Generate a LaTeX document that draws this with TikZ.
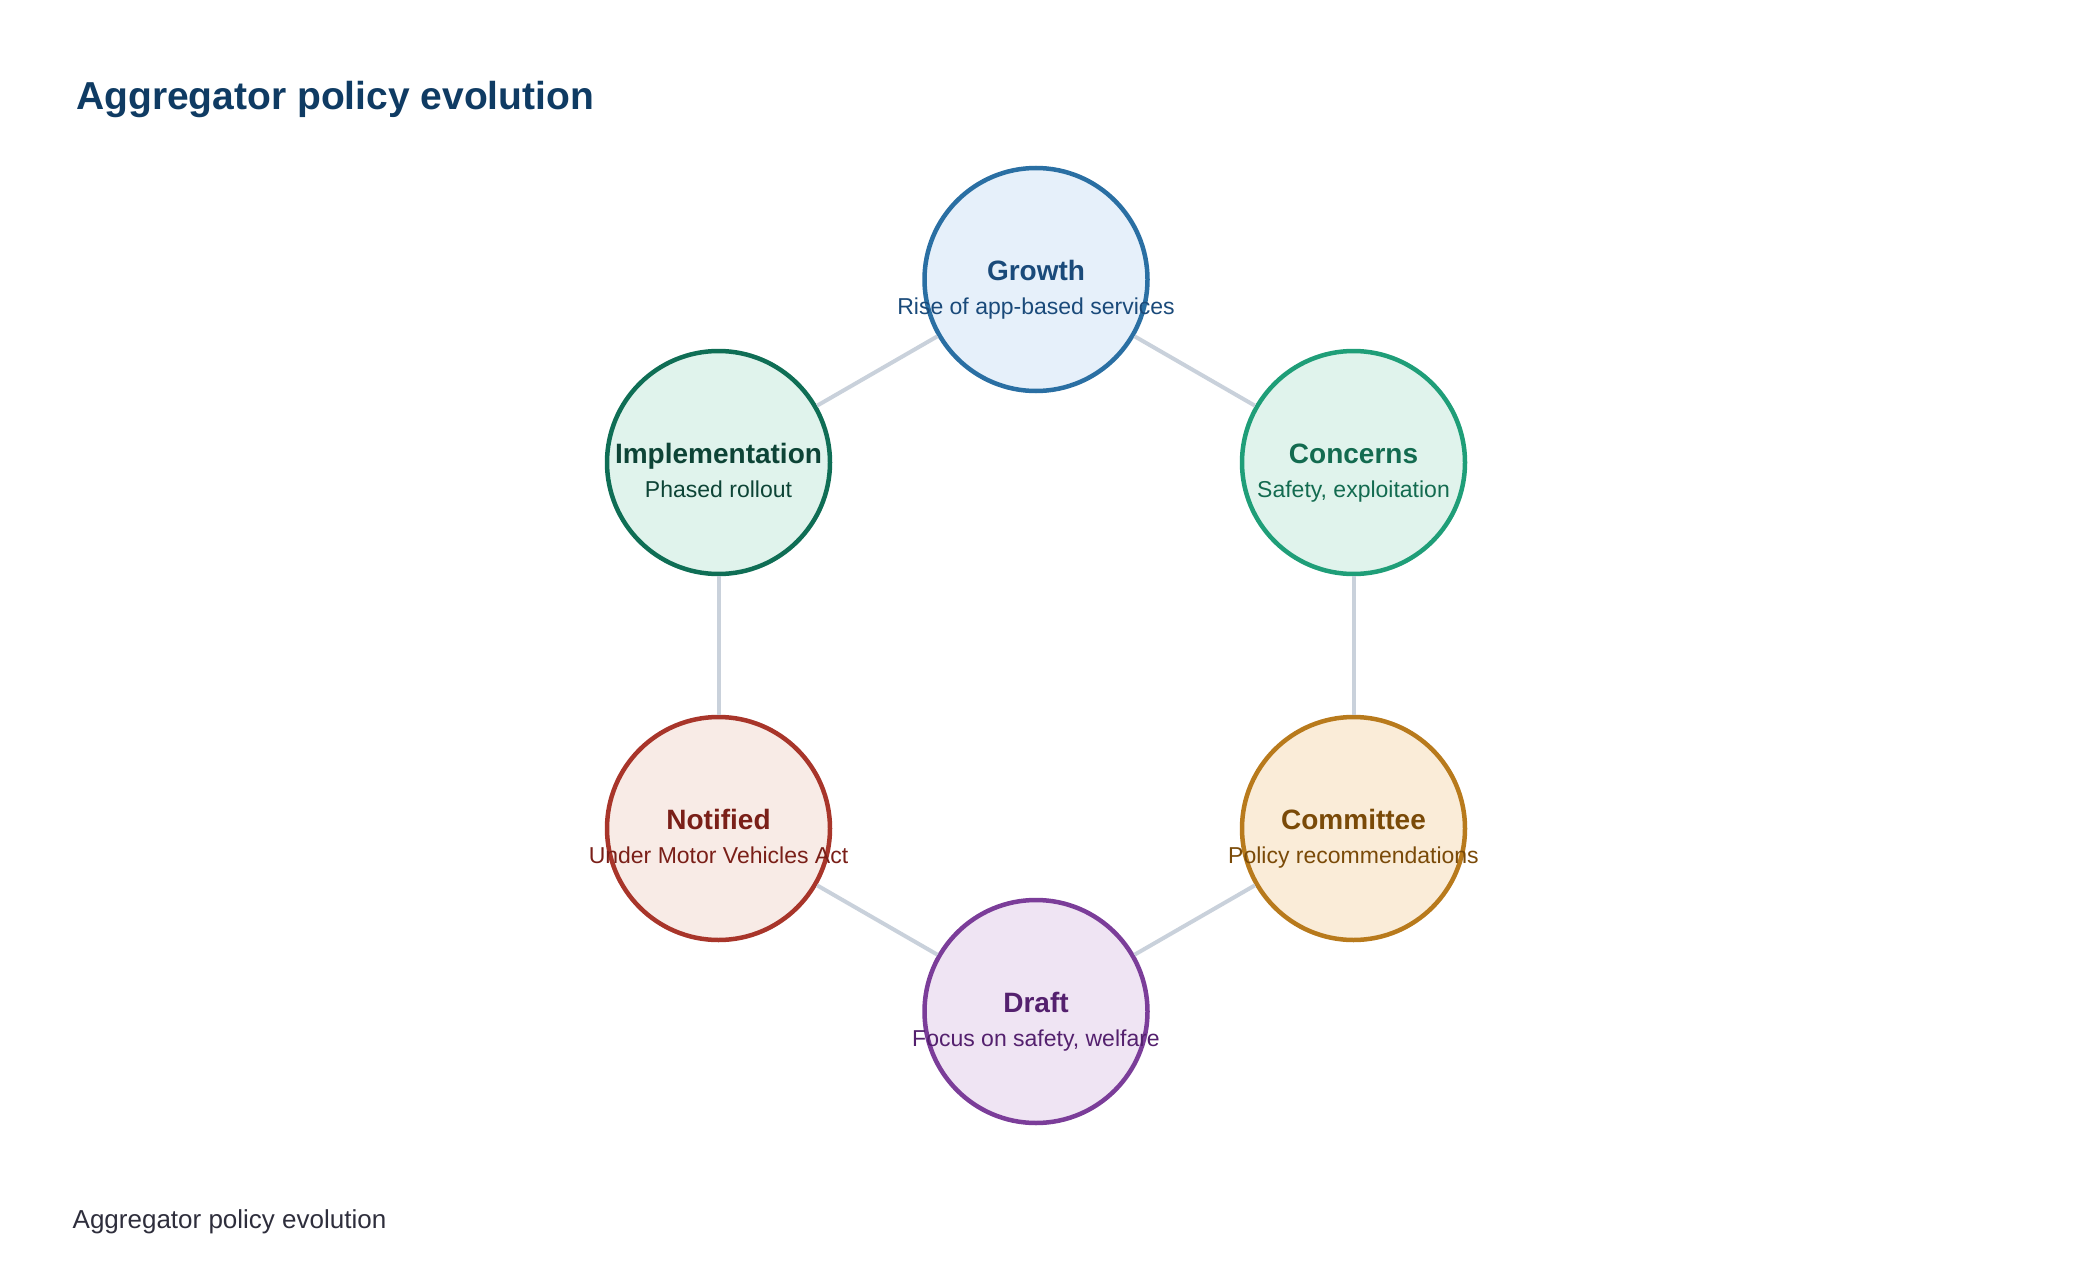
\documentclass[tikz,border=0pt]{standalone}
\usepackage{fontspec}
\setmainfont{Liberation Sans}
\definecolor{titlecol}{HTML}{0F3B63}
\definecolor{footcol}{HTML}{2E2E3C}
\definecolor{edgecol}{HTML}{C9D1DB}
\definecolor{gS}{HTML}{2A6FA3}\definecolor{gF}{HTML}{E6F0FA}\definecolor{gT}{HTML}{1A4A7A}
\definecolor{iS}{HTML}{0F6E55}\definecolor{iF}{HTML}{E0F3EC}\definecolor{iT}{HTML}{0D4436}
\definecolor{cS}{HTML}{1F9E78}\definecolor{cF}{HTML}{E0F3EC}\definecolor{cT}{HTML}{136B50}
\definecolor{nS}{HTML}{A8352A}\definecolor{nF}{HTML}{F8EBE6}\definecolor{nT}{HTML}{7A1F18}
\definecolor{mS}{HTML}{B87A1C}\definecolor{mF}{HTML}{FAECD8}\definecolor{mT}{HTML}{7A4A08}
\definecolor{dS}{HTML}{7B3D99}\definecolor{dF}{HTML}{EFE4F3}\definecolor{dT}{HTML}{54206E}
\tikzset{
  stage/.style={circle,draw=#1S,fill=#1F,line width=4.5pt,minimum size=223pt,inner sep=0pt},
  head/.style={anchor=base,inner sep=0pt,text=#1T,font=\fontsize{28}{32}\selectfont\bfseries},
  sub/.style={anchor=base,inner sep=0pt,text=#1T,font=\fontsize{23}{27}\selectfont},
  link/.style={draw=edgecol,line width=4pt}
}
\begin{document}
\begin{tikzpicture}[x=1pt,y=-1pt]
\useasboundingbox (0,0) rectangle (2080,1284);
\node[anchor=base west,inner sep=0pt,text=titlecol,font=\fontsize{39}{44}\selectfont\bfseries] (title) at (76,110) {Aggregator policy evolution};
\node[anchor=base west,inner sep=0pt,text=footcol,font=\fontsize{26}{30}\selectfont] (foot) at (72.5,1228) {Aggregator policy evolution};
\node[stage=g] (g) at (1036,279.5) {};
\node[stage=c] (c) at (1353.5,462.5) {};
\node[stage=m] (m) at (1353.5,828.5) {};
\node[stage=d] (d) at (1036,1011.5) {};
\node[stage=n] (n) at (718.5,828.5) {};
\node[stage=i] (i) at (718.5,462.5) {};
\draw[link] (g) -- (c);
\draw[link] (c) -- (m);
\draw[link] (m) -- (d);
\draw[link] (d) -- (n);
\draw[link] (n) -- (i);
\draw[link] (i) -- (g);
\node[head=g] (gh) at ([yshift=-1pt]g.center) {Growth};
\node[sub=g] (gs) at ([yshift=-35pt]g.center) {Rise of app-based services};
\node[head=c] (ch) at ([yshift=-1pt]c.center) {Concerns};
\node[sub=c] (cs) at ([yshift=-35pt]c.center) {Safety, exploitation};
\node[head=m] (mh) at ([yshift=-1pt]m.center) {Committee};
\node[sub=m] (ms) at ([yshift=-35pt]m.center) {Policy recommendations};
\node[head=d] (dh) at ([yshift=-1pt]d.center) {Draft};
\node[sub=d] (ds) at ([yshift=-35pt]d.center) {Focus on safety, welfare};
\node[head=n] (nh) at ([yshift=-1pt]n.center) {Notified};
\node[sub=n] (ns) at ([yshift=-35pt]n.center) {Under Motor Vehicles Act};
\node[head=i] (ih) at ([yshift=-1pt]i.center) {Implementation};
\node[sub=i] (is) at ([yshift=-35pt]i.center) {Phased rollout};
\end{tikzpicture}
\end{document}
